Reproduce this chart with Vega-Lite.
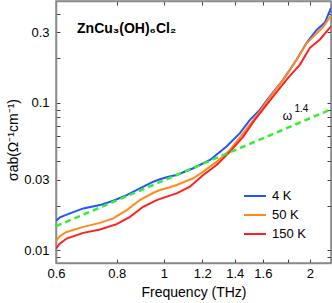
{
  "$schema": "https://vega.github.io/schema/vega-lite/v6.json",
  "width": 275,
  "height": 262,
  "autosize": {"type": "none"},
  "padding": {"left": 56, "top": 1, "right": 1, "bottom": 40},
  "background": "white",
  "config": {
    "font": "Liberation Sans",
    "view": {"stroke": "#8a8a8a", "strokeWidth": 1.5},
    "axis": {
      "grid": false,
      "domainColor": "#8a8a8a",
      "domainWidth": 1.5,
      "tickColor": "#444444",
      "tickWidth": 1,
      "tickSize": -4,
      "labelFont": "Liberation Sans",
      "labelFontSize": 13,
      "labelColor": "#000000",
      "labelFlush": false,
      "labelOverlap": false,
      "titleFont": "Liberation Sans",
      "titleFontSize": 14,
      "titleFontWeight": "normal",
      "titleColor": "#000000"
    },
    "legend": {
      "labelFont": "Liberation Sans",
      "labelFontSize": 13,
      "labelColor": "#000000"
    }
  },
  "datasets": {
    "spectra": [
      {"f": 0.600, "s": 0.01583, "T": "4 K"},
      {"f": 0.611, "s": 0.0167, "T": "4 K"},
      {"f": 0.641, "s": 0.01778, "T": "4 K"},
      {"f": 0.683, "s": 0.01922, "T": "4 K"},
      {"f": 0.739, "s": 0.02025, "T": "4 K"},
      {"f": 0.787, "s": 0.02166, "T": "4 K"},
      {"f": 0.839, "s": 0.02368, "T": "4 K"},
      {"f": 0.893, "s": 0.0263, "T": "4 K"},
      {"f": 0.952, "s": 0.02917, "T": "4 K"},
      {"f": 0.982, "s": 0.0303, "T": "4 K"},
      {"f": 1.022, "s": 0.03155, "T": "4 K"},
      {"f": 1.063, "s": 0.0324, "T": "4 K"},
      {"f": 1.150, "s": 0.036, "T": "4 K"},
      {"f": 1.245, "s": 0.041, "T": "4 K"},
      {"f": 1.347, "s": 0.0505, "T": "4 K"},
      {"f": 1.435, "s": 0.0623, "T": "4 K"},
      {"f": 1.505, "s": 0.0767, "T": "4 K"},
      {"f": 1.578, "s": 0.0898, "T": "4 K"},
      {"f": 1.654, "s": 0.1105, "T": "4 K"},
      {"f": 1.762, "s": 0.1436, "T": "4 K"},
      {"f": 1.878, "s": 0.1965, "T": "4 K"},
      {"f": 1.969, "s": 0.2553, "T": "4 K"},
      {"f": 2.064, "s": 0.312, "T": "4 K"},
      {"f": 2.147, "s": 0.35, "T": "4 K"},
      {"f": 2.21, "s": 0.44, "T": "4 K"},
      {"f": 0.600, "s": 0.01157, "T": "50 K"},
      {"f": 0.611, "s": 0.01245, "T": "50 K"},
      {"f": 0.631, "s": 0.01332, "T": "50 K"},
      {"f": 0.683, "s": 0.01441, "T": "50 K"},
      {"f": 0.739, "s": 0.01534, "T": "50 K"},
      {"f": 0.787, "s": 0.01644, "T": "50 K"},
      {"f": 0.839, "s": 0.01872, "T": "50 K"},
      {"f": 0.893, "s": 0.0219, "T": "50 K"},
      {"f": 0.952, "s": 0.02455, "T": "50 K"},
      {"f": 0.982, "s": 0.02561, "T": "50 K"},
      {"f": 1.022, "s": 0.02655, "T": "50 K"},
      {"f": 1.063, "s": 0.0277, "T": "50 K"},
      {"f": 1.150, "s": 0.03077, "T": "50 K"},
      {"f": 1.206, "s": 0.03412, "T": "50 K"},
      {"f": 1.285, "s": 0.03991, "T": "50 K"},
      {"f": 1.369, "s": 0.04794, "T": "50 K"},
      {"f": 1.458, "s": 0.0623, "T": "50 K"},
      {"f": 1.578, "s": 0.0874, "T": "50 K"},
      {"f": 1.654, "s": 0.109, "T": "50 K"},
      {"f": 1.762, "s": 0.143, "T": "50 K"},
      {"f": 1.878, "s": 0.196, "T": "50 K"},
      {"f": 1.969, "s": 0.253, "T": "50 K"},
      {"f": 2.03, "s": 0.28, "T": "50 K"},
      {"f": 2.127, "s": 0.325, "T": "50 K"},
      {"f": 2.21, "s": 0.39, "T": "50 K"},
      {"f": 0.600, "s": 0.01027, "T": "150 K"},
      {"f": 0.609, "s": 0.01099, "T": "150 K"},
      {"f": 0.631, "s": 0.01201, "T": "150 K"},
      {"f": 0.683, "s": 0.01312, "T": "150 K"},
      {"f": 0.739, "s": 0.01383, "T": "150 K"},
      {"f": 0.800, "s": 0.01503, "T": "150 K"},
      {"f": 0.852, "s": 0.01685, "T": "150 K"},
      {"f": 0.907, "s": 0.01971, "T": "150 K"},
      {"f": 0.967, "s": 0.0219, "T": "150 K"},
      {"f": 1.022, "s": 0.02331, "T": "150 K"},
      {"f": 1.063, "s": 0.02432, "T": "150 K"},
      {"f": 1.132, "s": 0.02697, "T": "150 K"},
      {"f": 1.206, "s": 0.0324, "T": "150 K"},
      {"f": 1.285, "s": 0.03789, "T": "150 K"},
      {"f": 1.369, "s": 0.04668, "T": "150 K"},
      {"f": 1.458, "s": 0.05905, "T": "150 K"},
      {"f": 1.54, "s": 0.0767, "T": "150 K"},
      {"f": 1.680, "s": 0.1105, "T": "150 K"},
      {"f": 1.791, "s": 0.1436, "T": "150 K"},
      {"f": 1.907, "s": 0.1817, "T": "150 K"},
      {"f": 2.000, "s": 0.236, "T": "150 K"},
      {"f": 2.097, "s": 0.2688, "T": "150 K"},
      {"f": 2.21, "s": 0.33, "T": "150 K"}
    ],
    "fit": [
      {"f": 0.6, "s": 0.01456},
      {"f": 2.21, "s": 0.0903}
    ],
    "title": [{"f": 0.663, "s": 0.298, "label": "ZnCu₃(OH)₆Cl₂"}],
    "omega": [{"f": 1.759, "s": 0.0767, "label": "ω"}],
    "expo": [{"f": 1.858, "s": 0.087, "label": "1.4"}]
  },
  "resolve": {"axis": {"x": "independent", "y": "independent"}},
  "layer": [
    {
      "data": {"name": "spectra"},
      "mark": {"type": "line", "strokeWidth": 2, "clip": true},
      "encoding": {
        "x": {
          "field": "f", "type": "quantitative",
          "scale": {"type": "log", "domain": [0.6, 2.21], "nice": false, "zero": false},
          "axis": {"orient": "top", "labels": false, "title": null,
                   "values": [0.6, 0.8, 1, 1.2, 1.4, 1.6, 1.8, 2]}
        },
        "y": {
          "field": "s", "type": "quantitative",
          "scale": {"type": "log", "domain": [0.0082, 0.49], "nice": false, "zero": false},
          "axis": {"orient": "right", "labels": false, "title": null,
                   "values": [0.009, 0.01, 0.02, 0.03, 0.04, 0.05, 0.06, 0.07, 0.08, 0.09, 0.1, 0.2, 0.3, 0.4]}
        },
        "color": {
          "field": "T", "type": "nominal",
          "scale": {"domain": ["4 K", "50 K", "150 K"], "range": ["#2255ff", "#ff8c1a", "#ff2020"]},
          "legend": {
            "title": null,
            "orient": "none",
            "legendX": 187,
            "legendY": 183,
            "padding": 0,
            "symbolType": "stroke",
            "symbolSize": 484,
            "symbolStrokeWidth": 2,
            "labelOffset": 5,
            "rowPadding": -2,
            "labelExpr": "datum.label == '4 K' ? '\u00a0\u00a0\u00a0\u00a04 K' : (datum.label == '50 K' ? '\u00a0\u00a050 K' : datum.label)"
          }
        }
      }
    },
    {
      "data": {"name": "fit"},
      "mark": {"type": "line", "color": "#33ee33", "strokeWidth": 2.5, "strokeDash": [6, 4], "clip": true},
      "encoding": {
        "x": {
          "field": "f", "type": "quantitative",
          "scale": {"type": "log", "domain": [0.6, 2.21], "nice": false, "zero": false},
          "axis": {
            "orient": "bottom",
            "title": "Frequency (THz)",
            "values": [0.6, 0.8, 1, 1.2, 1.4, 1.6, 1.8, 2],
            "labelExpr": "datum.value == 1.8 ? '' : format(datum.value, '~g')",
            "labelPadding": 8.5,
            "titleY": 33.5,
            "titleBaseline": "alphabetic"
          }
        },
        "y": {
          "field": "s", "type": "quantitative",
          "scale": {"type": "log", "domain": [0.0082, 0.49], "nice": false, "zero": false},
          "axis": {
            "orient": "left",
            "title": "σab(Ω⁻¹cm⁻¹)",
            "values": [0.009, 0.01, 0.02, 0.03, 0.04, 0.05, 0.06, 0.07, 0.08, 0.09, 0.1, 0.2, 0.3, 0.4],
            "labelExpr": "(datum.value == 0.01 || datum.value == 0.03 || datum.value == 0.1 || datum.value == 0.3) ? format(datum.value, '~g') : ''",
            "labelPadding": 11,
            "titleX": -39,
            "titleY": 138.5,
            "titleBaseline": "alphabetic"
          }
        }
      }
    },
    {
      "data": {"name": "title"},
      "mark": {"type": "text", "align": "left", "baseline": "alphabetic", "fontSize": 14, "fontWeight": "bold", "font": "Liberation Sans", "color": "#000000"},
      "encoding": {
        "x": {"field": "f", "type": "quantitative", "scale": {"type": "log", "domain": [0.6, 2.21], "nice": false, "zero": false}, "axis": null},
        "y": {"field": "s", "type": "quantitative", "scale": {"type": "log", "domain": [0.0082, 0.49], "nice": false, "zero": false}, "axis": null},
        "text": {"field": "label"}
      }
    },
    {
      "data": {"name": "omega"},
      "mark": {"type": "text", "align": "left", "baseline": "alphabetic", "fontSize": 12, "font": "Liberation Sans", "color": "#000000"},
      "encoding": {
        "x": {"field": "f", "type": "quantitative", "scale": {"type": "log", "domain": [0.6, 2.21], "nice": false, "zero": false}, "axis": null},
        "y": {"field": "s", "type": "quantitative", "scale": {"type": "log", "domain": [0.0082, 0.49], "nice": false, "zero": false}, "axis": null},
        "text": {"field": "label"}
      }
    },
    {
      "data": {"name": "expo"},
      "mark": {"type": "text", "align": "left", "baseline": "alphabetic", "fontSize": 10, "font": "Liberation Sans", "color": "#000000"},
      "encoding": {
        "x": {"field": "f", "type": "quantitative", "scale": {"type": "log", "domain": [0.6, 2.21], "nice": false, "zero": false}, "axis": null},
        "y": {"field": "s", "type": "quantitative", "scale": {"type": "log", "domain": [0.0082, 0.49], "nice": false, "zero": false}, "axis": null},
        "text": {"field": "label"}
      }
    }
  ]
}
